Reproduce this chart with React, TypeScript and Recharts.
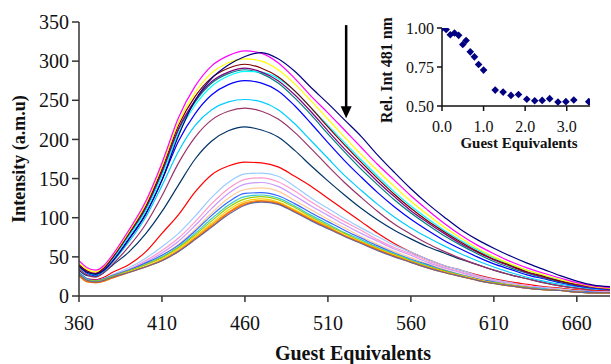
import React from 'react';
import { LineChart, Line, XAxis, YAxis, ScatterChart, Scatter, ReferenceLine, ReferenceDot } from 'recharts';

const WAVELENGTHS = [360,365,370,375,380,390,400,410,420,430,440,450,460,470,480,490,500,510,520,530,540,550,560,570,580,590,600,610,620,630,640,650,660,670,680];
const X_TICKS = [360,410,460,510,560,610,660];
const Y_TICKS = [0,50,100,150,200,250,300,350];

const NAVY = [38,30,28,33,44,72,104,148,205,250,278,295,306,311,303,287,266,246,225,204,180,158,137,118,101,85,72,61,51,42,34,26,19,14,12];
const MAGENTA = [45,36,33,39,52,84,120,170,228,268,294,307,313,310,298,278,255,234,212,190,168,148,128,110,93,78,65,54,44,36,29,23,17,13,11];
const YELLOW = [42,34,31,38,51,82,117,166,222,260,285,298,303,300,289,271,249,226,203,181,160,140,121,104,88,74,61,50,41,33,27,21,16,12,10];
const MAROON = [40,32,29,36,49,80,114,162,218,255,279,291,296,291,280,262,240,216,193,171,150,130,112,96,82,69,57,47,39,31,25,19,15,12,10];
const PURPLE = [40,31,28,35,48,79,112,159,214,250,274,286,291,286,275,257,235,211,188,167,146,127,109,94,80,67,56,46,38,30,24,19,14,11,9];
const TEAL = [39,30,27,34,47,78,110,157,212,248,272,284,289,284,272,253,231,207,184,162,142,123,106,91,77,65,54,44,36,29,23,18,14,11,9];
const CYAN = [38,30,27,34,46,76,108,154,208,244,268,281,287,286,278,262,240,218,196,174,153,133,115,99,84,71,59,49,40,33,26,20,15,12,10];
const BLUE = [38,29,26,33,44,73,104,148,198,233,257,270,275,272,262,243,220,196,173,152,132,114,98,84,71,60,50,41,34,27,22,17,13,10,8];
const SKY = [37,29,26,32,43,69,100,141,185,218,238,248,251,248,238,220,198,176,154,135,117,101,87,75,64,54,45,37,30,24,19,15,12,9,8];
const MAUVE = [35,27,24,30,40,63,91,128,170,203,225,236,240,236,226,209,188,166,145,126,108,92,79,67,57,48,40,33,27,22,17,13,10,8,7];
const DARKNAVY = [33,26,25,30,39,56,79,108,142,175,198,211,216,212,203,186,166,147,129,112,97,84,73,63,55,47,40,33,27,22,17,13,10,8,7];
const RED = [30,22,21,24,30,40,56,80,104,133,155,166,171,170,165,153,140,125,110,95,80,67,56,47,39,33,27,22,18,15,12,10,8,7,6];
const LIGHTBLUE = [29,21,19,22,27,36,48,63,80,102,126,145,156,157,153,140,125,112,99,87,76,65,56,47,39,33,26,21,17,13,11,9,7,6,5];
const PINK = [29,21,19,21,26,34,45,58,74,95,118,137,149,151,146,134,120,107,95,84,72,62,54,45,37,31,25,20,16,13,10,8,6,5,5];
const VIOLET = [28,20,18,21,25,33,43,55,70,90,112,131,143,145,140,128,115,103,91,80,70,60,52,43,36,30,24,19,16,12,10,8,6,5,5];
const PEACH = [28,20,18,21,25,32,41,52,66,85,106,125,136,138,134,122,110,98,87,76,66,57,49,41,34,28,23,18,15,11,9,8,6,5,4];
const BLUE2 = [30,22,20,22,26,33,42,52,65,83,103,120,131,132,128,118,106,95,84,74,64,55,47,40,33,27,22,18,14,11,9,7,6,5,4];
const AQUA = [29,21,19,21,25,32,40,50,63,80,99,116,127,129,125,115,103,92,81,72,62,54,46,39,32,27,21,17,14,11,9,7,5,4,4];
const LIME = [28,20,19,21,25,32,40,49,62,78,96,113,124,127,123,113,101,90,80,70,61,53,45,38,32,26,21,17,14,11,8,7,5,4,4];
const GOLD = [27,19,18,20,24,31,38,47,60,76,93,110,121,124,120,110,99,88,78,69,60,52,44,37,31,26,21,16,13,10,8,7,5,4,4];
const ORANGE = [27,19,17,19,23,30,37,46,58,74,91,107,119,122,119,109,98,88,77,68,59,51,44,37,31,25,20,16,13,10,8,7,5,4,4];
const ORANGERED = [26,18,17,19,23,30,37,45,57,73,89,106,117,121,118,108,97,87,77,68,59,51,43,36,30,25,20,16,13,10,8,7,5,4,4];
const BLUEGRAY = [28,20,18,20,24,30,37,45,57,72,88,104,116,120,117,107,96,86,76,67,58,50,43,36,30,25,20,16,13,10,8,7,5,4,4];

const SERIES: { key: string; color: string; values: number[] }[] = [
  { key: 'darknavy', color: '#003366', values: DARKNAVY },
  { key: 'mauve', color: '#993366', values: MAUVE },
  { key: 'sky', color: '#00CCFF', values: SKY },
  { key: 'blue', color: '#0000FF', values: BLUE },
  { key: 'teal', color: '#008080', values: TEAL },
  { key: 'cyan', color: '#00FFFF', values: CYAN },
  { key: 'purple', color: '#800080', values: PURPLE },
  { key: 'maroon', color: '#800000', values: MAROON },
  { key: 'yellow', color: '#FFFF00', values: YELLOW },
  { key: 'magenta', color: '#FF00FF', values: MAGENTA },
  { key: 'navy', color: '#000080', values: NAVY },
  { key: 'red', color: '#FF0000', values: RED },
  { key: 'lightblue', color: '#99CCFF', values: LIGHTBLUE },
  { key: 'pink', color: '#FF99CC', values: PINK },
  { key: 'violet', color: '#CC99FF', values: VIOLET },
  { key: 'peach', color: '#FFCC99', values: PEACH },
  { key: 'blue2', color: '#3366FF', values: BLUE2 },
  { key: 'aqua', color: '#33CCCC', values: AQUA },
  { key: 'lime', color: '#99CC00', values: LIME },
  { key: 'gold', color: '#FFCC00', values: GOLD },
  { key: 'orange', color: '#FF9900', values: ORANGE },
  { key: 'orangered', color: '#FF6600', values: ORANGERED },
  { key: 'bluegray', color: '#666699', values: BLUEGRAY },
];

const INSET_EQ = [0, 0.1, 0.2, 0.3, 0.4, 0.5, 0.58, 0.68, 0.78, 0.88, 1.0, 1.28, 1.47, 1.66, 1.84, 2.04, 2.23, 2.41, 2.59, 2.79, 2.98, 3.17, 3.53];
const INSET_REL = [1.0, 0.99, 0.957, 0.968, 0.953, 0.894, 0.92, 0.847, 0.815, 0.766, 0.73, 0.602, 0.589, 0.568, 0.574, 0.543, 0.534, 0.536, 0.547, 0.526, 0.528, 0.538, 0.528];
const INSET_X_TICKS = [0, 1, 2, 3];
const INSET_Y_TICKS = [0.5, 0.75, 1.0];

const tableData = WAVELENGTHS.map((w, i) => {
  const row: Record<string, number> = { w };
  SERIES.forEach((s) => { row[s.key] = s.values[i]; });
  return row;
});
const insetData = INSET_EQ.map((x, i) => ({ x, y: INSET_REL[i] }));

const FONT = '"Liberation Serif", "Times New Roman", Times, serif';
const AXIS = '#333333';

const makeTick = (anchor: 'middle' | 'end', size: number, dy: string, fmt: (v: number) => string) =>
  (props: any) => {
    const { x, y, payload } = props;
    return (
      <text x={x} y={y} dy={dy} textAnchor={anchor} fontFamily={FONT} fontSize={size} fill="#111">
        {fmt(payload.value)}
      </text>
    );
  };

const MainXTick = makeTick('middle', 20, '0.71em', (v) => String(v));
const MainYTick = makeTick('end', 20, '0.355em', (v) => String(v));
const InsetXTick = makeTick('middle', 16, '0.71em', (v) => v.toFixed(1));
const InsetYTick = makeTick('end', 16, '0.355em', (v) => v.toFixed(2));

const Diamond = (props: any) => {
  const { cx, cy } = props;
  if (cx == null || cy == null) return null;
  const r = 3.8;
  return <polygon points={`${cx},${cy - r} ${cx + r},${cy} ${cx},${cy + r} ${cx - r},${cy}`} fill="#000080" />;
};

const ArrowHead = (props: any) => {
  const { cx, cy } = props;
  if (cx == null || cy == null) return null;
  return <polygon points={`${cx - 5.5},${cy - 12} ${cx + 5.5},${cy - 12} ${cx},${cy}`} fill="#000" />;
};

export default function App() {
  return (
    <div style={{ position: 'absolute', left: 0, top: 0, width: 611, height: 364, background: '#fff', fontFamily: FONT }}>
      <div style={{ position: 'absolute', left: 0, top: 0 }}>
        <LineChart width={611} height={364} data={tableData} margin={{ top: 22, right: 1, left: 0, bottom: 38 }}>
          <XAxis
            dataKey="w"
            type="number"
            domain={[360, 680]}
            ticks={X_TICKS}
            interval={0}
            height={30}
            tickSize={6}
            tickMargin={14}
            stroke={AXIS}
            strokeWidth={1.5}
            tick={MainXTick}
            allowDataOverflow
          />
          <YAxis
            type="number"
            domain={[0, 350]}
            ticks={Y_TICKS}
            interval={0}
            width={79}
            tickSize={7}
            tickMargin={3}
            stroke={AXIS}
            strokeWidth={1.5}
            tick={MainYTick}
            allowDataOverflow
          />
          {SERIES.map((s) => (
            <Line
              key={s.key}
              dataKey={s.key}
              type="monotone"
              stroke={s.color}
              strokeWidth={1.2}
              dot={false}
              isAnimationActive={false}
            />
          ))}
          <ReferenceLine segment={[{ x: 521, y: 346 }, { x: 521, y: 240 }]} stroke="#000" strokeWidth={2.5} />
          <ReferenceDot x={521} y={227} r={0} shape={ArrowHead} />
        </LineChart>
      </div>
      <div style={{ position: 'absolute', left: 370, top: 10 }}>
        <ScatterChart width={240} height={150} margin={{ top: 18, right: 20, left: 0, bottom: 24 }}>
          <XAxis
            dataKey="x"
            type="number"
            domain={[0, 3.56]}
            ticks={INSET_X_TICKS}
            interval={0}
            height={30}
            tickSize={5}
            tickMargin={10}
            stroke="#111"
            strokeWidth={1.5}
            tick={InsetXTick}
            allowDataOverflow
          />
          <YAxis
            dataKey="y"
            type="number"
            domain={[0.5, 1.0]}
            ticks={INSET_Y_TICKS}
            interval={0}
            width={72}
            tickSize={5}
            tickMargin={3}
            stroke="#111"
            strokeWidth={1.5}
            tick={InsetYTick}
            allowDataOverflow
          />
          <Scatter data={insetData} shape={Diamond} isAnimationActive={false} />
        </ScatterChart>
      </div>
      <svg width={611} height={364} style={{ position: 'absolute', left: 0, top: 0, pointerEvents: 'none' }}>
        <text x={25} y={159} transform="rotate(-90 25 159)" textAnchor="middle" fontFamily={FONT} fontWeight="bold" fontSize={18} fill="#111">
          Intensity (a.m.u)
        </text>
        <text x={353} y={360} textAnchor="middle" fontFamily={FONT} fontWeight="bold" fontSize={20} fill="#111">
          Guest Equivalents
        </text>
        <text x={392} y={70} transform="rotate(-90 392 70)" textAnchor="middle" fontFamily={FONT} fontWeight="bold" fontSize={16} fill="#111">
          Rel. Int 481 nm
        </text>
        <text x={519} y={148} textAnchor="middle" fontFamily={FONT} fontWeight="bold" fontSize={15} fill="#111">
          Guest Equivalents
        </text>
      </svg>
    </div>
  );
}
